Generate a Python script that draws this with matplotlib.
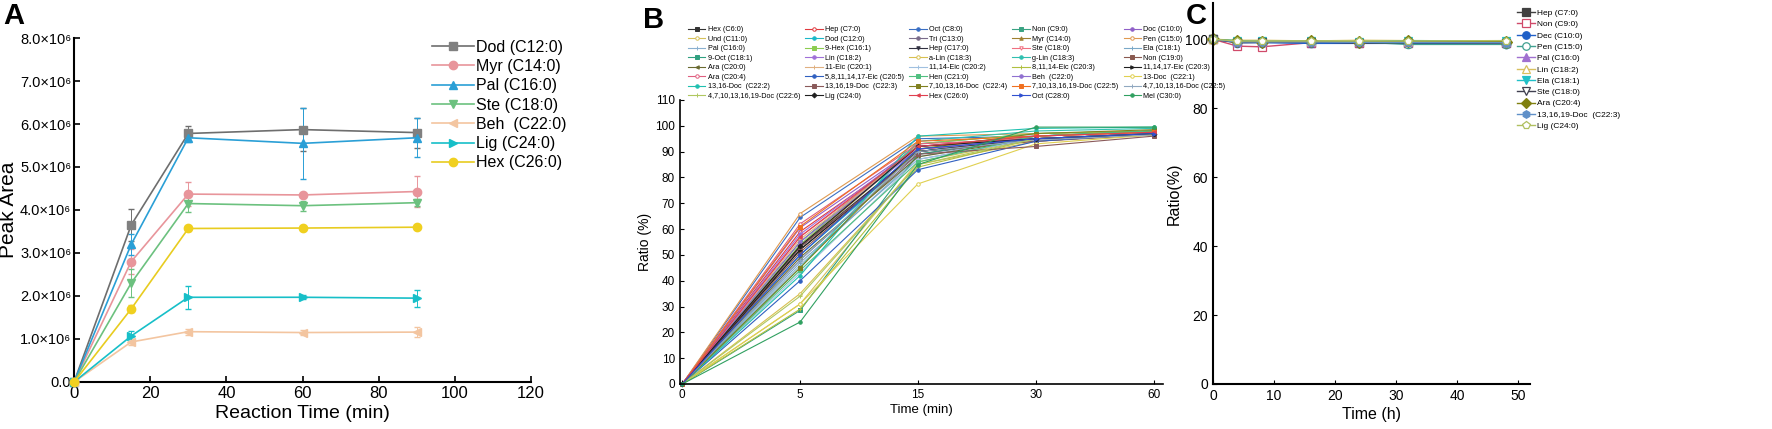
import matplotlib
matplotlib.use("Agg")
import matplotlib.pyplot as plt
from matplotlib.ticker import FuncFormatter

plt.rcParams['font.family'] = ['Liberation Sans', 'DejaVu Sans']

# ---------------- Panel A data ----------------
a_time = [0, 15, 30, 60, 90]
a_names = ["Dod (C12:0)", "Myr (C14:0)", "Pal (C16:0)", "Ste (C18:0)", "Beh  (C22:0)", "Lig (C24:0)", "Hex (C26:0)"]
a_dod = [0, 3.65e6, 5.78e6, 5.87e6, 5.80e6]
a_myr = [0, 2.80e6, 4.37e6, 4.35e6, 4.43e6]
a_pal = [0, 3.20e6, 5.68e6, 5.55e6, 5.68e6]
a_ste = [0, 2.30e6, 4.15e6, 4.10e6, 4.17e6]
a_beh = [0, 0.93e6, 1.17e6, 1.15e6, 1.16e6]
a_lig = [0, 1.07e6, 1.97e6, 1.97e6, 1.95e6]
a_hex = [0, 1.70e6, 3.57e6, 3.58e6, 3.60e6]
a_dod_err = [0, 0.38e6, 0.17e6, 0.50e6, 0.35e6]
a_myr_err = [0, 0.30e6, 0.28e6, 0.05e6, 0.35e6]
a_pal_err = [0, 0.25e6, 0.10e6, 0.82e6, 0.45e6]
a_ste_err = [0, 0.33e6, 0.20e6, 0.12e6, 0.08e6]
a_beh_err = [0, 0.08e6, 0.07e6, 0.05e6, 0.12e6]
a_lig_err = [0, 0.12e6, 0.27e6, 0.05e6, 0.20e6]
a_hex_err = [0, 0.08e6, 0.06e6, 0.05e6, 0.05e6]

# ---------------- Panel B data ----------------
b_time_labels = ["0", "5", "15", "30", "60"]
b_names = [
    "Hex (C6:0)", "Hep (C7:0)", "Oct (C8:0)", "Non (C9:0)", "Doc (C10:0)",
    "Und (C11:0)", "Dod (C12:0)", "Tri (C13:0)", "Myr (C14:0)", "Pen (C15:0)",
    "Pal (C16:0)", "9-Hex (C16:1)", "Hep (C17:0)", "Ste (C18:0)", "Ela (C18:1)",
    "9-Oct (C18:1)", "Lin (C18:2)", "a-Lin (C18:3)", "g-Lin (C18:3)", "Non (C19:0)",
    "Ara (C20:0)", "11-Eic (C20:1)", "11,14-Eic (C20:2)", "8,11,14-Eic (C20:3)", "11,14,17-Eic (C20:3)",
    "Ara (C20:4)", "5,8,11,14,17-Eic (C20:5)", "Hen (C21:0)", "Beh  (C22:0)", "13-Doc  (C22:1)",
    "13,16-Doc  (C22:2)", "13,16,19-Doc  (C22:3)", "7,10,13,16-Doc  (C22:4)", "7,10,13,16,19-Doc (C22:5)", "4,7,10,13,16-Doc (C22:5)",
    "4,7,10,13,16,19-Doc (C22:6)", "Lig (C24:0)", "Hex (C26:0)", "Oct (C28:0)", "Mel (C30:0)",
]
b_values = [
    [0, 52, 90, 95, 97], [0, 59, 91, 94, 97], [0, 64.5, 95, 96, 98], [0, 55, 93, 97, 98], [0, 60.5, 92, 96, 97.5],
    [0, 31, 86, 95, 97], [0, 50, 90, 96, 98], [0, 48, 89, 95, 97], [0, 53, 92, 96, 98], [0, 66, 96, 97, 98],
    [0, 46, 88, 96, 97.5], [0, 54, 93, 97, 98], [0, 53, 90, 95, 97], [0, 57, 91, 94.5, 96.5], [0, 47, 87, 95, 97],
    [0, 28.5, 89, 96, 98], [0, 58, 92, 95, 97], [0, 35, 85, 94, 97], [0, 45, 94, 98, 99], [0, 51, 90, 94, 96.5],
    [0, 49, 88, 95, 97], [0, 56, 91, 96, 97.5], [0, 43, 87, 95, 97], [0, 29, 84, 95, 97], [0, 52, 90, 95, 97],
    [0, 62, 93, 95, 97], [0, 40, 83, 94, 97], [0, 44, 86, 96, 98], [0, 55, 91, 95, 97], [0, 31, 77.5, 93, 96.5],
    [0, 42, 96, 99, 99.5], [0, 53, 89, 92, 96], [0, 45, 91, 97, 98.5], [0, 61, 94, 96, 97.5], [0, 48, 90, 94.5, 96.5],
    [0, 34, 85, 95, 97], [0, 53.5, 92, 95, 97], [0, 57, 92, 96, 97.5], [0, 50, 91, 95, 97], [0, 24, 85, 99.5, 99.5],
]
b_colors = [
    "#333333", "#e0393e", "#3a6fc4", "#3aa383", "#9060c8",
    "#d6c15a", "#1ab8c8", "#7a6c8a", "#a08030", "#e09a50",
    "#8ab0d0", "#8ccc50", "#303040", "#f07080", "#7aa8c8",
    "#30a080", "#a070d8", "#d8c050", "#30c0b0", "#8a5a50",
    "#6a6a30", "#e0b080", "#a0c0e0", "#b0c040", "#202020",
    "#e06080", "#3060c0", "#50c080", "#9070d0", "#e0d050",
    "#20c0b0", "#8a5a5a", "#808020", "#f07020", "#90a8c0",
    "#b0c860", "#202020", "#e04050", "#3050d0", "#30a060",
]
b_markers = [
    "s", "o", "o", "s", "o",
    "o", "o", "o", "^", "o",
    "+", "s", "v", "v", "+",
    "s", "o", "o", "o", "s",
    "<", "+", "+", "+", ">",
    "o", "o", "s", "o", "o",
    "o", "s", "s", "s", "+",
    "+", "D", "<", ">", "o",
]
b_open = [
    False, True, False, False, False,
    True, False, False, False, True,
    False, False, False, True, False,
    False, False, True, False, False,
    False, False, False, False, False,
    True, False, False, False, True,
    False, False, False, False, False,
    False, False, False, False, False,
]

# ---------------- Panel C data ----------------
c_time = [0, 4, 8, 16, 24, 32, 48]
c_names = ["Hep (C7:0)", "Non (C9:0)", "Dec (C10:0)", "Pen (C15:0)", "Pal (C16:0)", "Lin (C18:2)",
           "Ela (C18:1)", "Ste (C18:0)", "Ara (C20:4)", "13,16,19-Doc  (C22:3)", "Lig (C24:0)"]
c_values = [
    [100, 99.2, 99.2, 99.0, 99.0, 99.0, 98.8],
    [100, 98.0, 97.8, 99.0, 99.0, 98.8, 98.8],
    [100, 99.0, 99.0, 98.8, 98.8, 98.8, 98.6],
    [100, 99.5, 99.3, 99.3, 99.2, 98.5, 98.5],
    [100, 99.3, 99.3, 99.2, 99.2, 99.2, 99.2],
    [100, 99.7, 99.7, 99.5, 99.7, 99.6, 99.5],
    [100, 99.6, 99.4, 99.4, 99.3, 99.6, 99.5],
    [100, 99.0, 99.1, 99.2, 98.9, 99.0, 98.9],
    [100, 99.4, 99.3, 99.4, 99.2, 99.4, 99.3],
    [100, 99.2, 99.2, 99.2, 99.1, 99.1, 99.0],
    [100, 99.5, 99.5, 99.5, 99.5, 99.5, 99.6],
]
c_colors = ["#404040", "#d04a6a", "#2060c8", "#40a090", "#a070d0", "#d8c060",
            "#20c0c8", "#404050", "#808010", "#6090c8", "#b0c060"]
c_markers = ["s", "s", "o", "o", "^", "^", "v", "v", "D", "h", "p"]
c_open = [False, True, False, True, False, True, False, True, False, False, True]

# ---------------- Figure ----------------
fig = plt.figure(figsize=(17.72, 4.29), dpi=100)

# Panel A
axA = fig.add_axes([0.0418, 0.1096, 0.2579, 0.8018])
a_series = [a_dod, a_myr, a_pal, a_ste, a_beh, a_lig, a_hex]
a_errs = [a_dod_err, a_myr_err, a_pal_err, a_ste_err, a_beh_err, a_lig_err, a_hex_err]
a_line_colors = ["#6e6e6e", "#e8959b", "#2a9fd6", "#6cc17f", "#f3c5a0", "#17bfc8", "#e8cc20"]
a_marker_colors = ["#808080", "#e8959b", "#2a9fd6", "#6cc17f", "#f3c5a0", "#17bfc8", "#f0d020"]
a_markers = ["s", "o", "^", "v", "<", ">", "o"]
a_handles = []
for y, e, lc, mc, m, n in zip(a_series, a_errs, a_line_colors, a_marker_colors, a_markers, a_names):
    eb = axA.errorbar(a_time, y, yerr=e, color=lc, marker=m, markersize=6, markerfacecolor=mc,
                      markeredgecolor=mc, lw=1.2, elinewidth=0.7, capsize=2.5, ecolor=lc, label=n,
                      clip_on=False, zorder=3)
    a_handles.append(eb[0])
axA.set_xlim(0, 120)
axA.set_ylim(0, 8e6)
axA.set_xticks([0, 20, 40, 60, 80, 100, 120])
axA.set_yticks([i * 1e6 for i in range(9)])
axA.yaxis.set_major_formatter(FuncFormatter(
    lambda v, p: "0.0" if v == 0 else f"{v/1e6:.1f}\u00d710\u2076"))
axA.spines[['top', 'right']].set_visible(False)
for s in ['left', 'bottom']:
    axA.spines[s].set_linewidth(1.5)
axA.tick_params(axis='y', labelsize=10.5, width=1.2, length=4, direction='in', pad=2)
axA.tick_params(axis='x', labelsize=12, width=1.2, length=4, direction='in', pad=3)
axA.set_xlabel("Reaction Time (min)", fontsize=14, labelpad=3)
axA.set_ylabel("Peak Area", fontsize=15)
axA.yaxis.set_label_coords(-0.123, 0.5)
axA.legend(a_handles, a_names, loc='upper left', bbox_to_anchor=(0.78, 1.0), frameon=False,
           fontsize=11.5, handlelength=2.6, handletextpad=0.15, labelspacing=0.27,
           borderpad=0.1, borderaxespad=0)

# Panel B
axB = fig.add_axes([0.3837, 0.1049, 0.2726, 0.662])
bx = list(range(len(b_time_labels)))
handles = []
for vals, col, mk, op, n in zip(b_values, b_colors, b_markers, b_open, b_names):
    h, = axB.plot(bx, vals, color=col, marker=mk, markersize=2.5, lw=0.8,
                  markerfacecolor='white' if op else col, markeredgecolor=col,
                  markeredgewidth=0.7, label=n, clip_on=False)
    handles.append(h)
axB.set_xlim(-0.02, 4.08)
axB.set_ylim(0, 110)
axB.set_xticks(bx)
axB.set_xticklabels(b_time_labels)
axB.set_yticks(range(0, 111, 10))
axB.spines[['top', 'right']].set_visible(False)
for s in ['left', 'bottom']:
    axB.spines[s].set_linewidth(1.2)
axB.tick_params(labelsize=8.5, direction='in', length=3)
axB.set_xlabel("Time (min)", fontsize=9.5, labelpad=2)
axB.set_ylabel("Ratio (%)", fontsize=10, labelpad=2)
ncolB = 5
nrowB = len(handles) // ncolB
order = [r * ncolB + c for c in range(ncolB) for r in range(nrowB)]
fig.legend([handles[i] for i in order], [b_names[i] for i in order], ncol=ncolB,
           loc='upper left', bbox_to_anchor=(688 / 1772, 1 - 26 / 429), frameon=False,
           fontsize=5.2, handlelength=2.4, handletextpad=0.3, columnspacing=0.75,
           labelspacing=0.34, borderpad=0, borderaxespad=0)

# Panel C
axC = fig.add_axes([0.6845, 0.1049, 0.179, 0.888])
for vals, col, mk, op, n in zip(c_values, c_colors, c_markers, c_open, c_names):
    axC.plot(c_time, vals, color=col, marker=mk, markersize=6, lw=1.0,
             markerfacecolor='white' if op else col, markeredgecolor=col,
             markeredgewidth=0.9, label=n, clip_on=False)
axC.set_xlim(0, 52)
axC.set_ylim(0, 110.5)
axC.set_xticks(range(0, 51, 10))
axC.set_yticks(range(0, 101, 20))
axC.spines[['top', 'right']].set_visible(False)
for s in ['left', 'bottom']:
    axC.spines[s].set_linewidth(1.5)
axC.tick_params(labelsize=10, direction='in', length=3)
axC.set_xlabel("Time (h)", fontsize=11.5, labelpad=3)
axC.set_ylabel("Ratio(%)", fontsize=11.5, labelpad=2)
axC.legend(loc='upper left', bbox_to_anchor=(1517 / 1772, 1 - 9 / 429),
           bbox_transform=fig.transFigure, frameon=False, fontsize=6,
           handlelength=2.2, handletextpad=0.2, labelspacing=0.42, borderpad=0,
           borderaxespad=0, markerscale=0.9)

# Panel letters
fig.text(3 / 1772, 1 - 2 / 429, "A", fontsize=21, fontweight='bold', va='top', ha='left')
fig.text(643 / 1772, 1 - 6 / 429, "B", fontsize=21, fontweight='bold', va='top', ha='left')
fig.text(1186 / 1772, 1 - 2 / 429, "C", fontsize=21, fontweight='bold', va='top', ha='left')

fig.savefig("out.png", dpi=100)
